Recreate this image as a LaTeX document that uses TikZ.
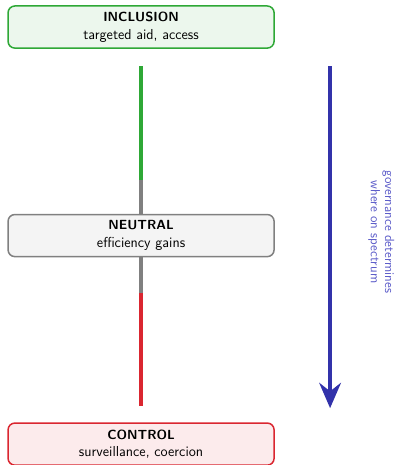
\documentclass[tikz,border=0pt]{standalone}
\usepackage{tikz}
\usetikzlibrary{arrows.meta}
\definecolor{incgreen}{RGB}{46,168,54}
\definecolor{ctrlred}{RGB}{218,38,48}
\definecolor{neugray}{RGB}{128,128,128}
\definecolor{govblue}{RGB}{50,50,170}
\definecolor{govtext}{RGB}{90,90,200}
\newcommand{\govarrow}{-{Stealth[length=21pt,width=18pt,inset=7pt]}}
\newcommand{\sub}{\fontsize{12}{14.5}\selectfont}

\begin{document}
\begin{tikzpicture}[font=\sffamily\fontsize{11}{14.5}\selectfont,
	spec/.style={draw, rounded corners=0.2cm, line width=1.25pt, minimum width=7.77cm, minimum height=1.23cm, align=center},
	bar/.style={line width=3.3pt}]
	\useasboundingbox (-4.12,-6.70) rectangle (7.50,6.88);
	\node[spec, draw=incgreen, fill=incgreen!9] (inc) at (0,6.09) {\textbf{INCLUSION}\\ \sub targeted aid, access};
	\node[spec, draw=neugray, fill=neugray!9] (neu) at (0,0) {\textbf{NEUTRAL}\\ \sub efficiency gains};
	\node[spec, draw=ctrlred, fill=ctrlred!9] (ctrl) at (0,-6.09) {\textbf{CONTROL}\\ \sub surveillance, coercion};
	\coordinate (gtop) at (0,4.95);
	\coordinate (gbot) at (0,1.62);
	\coordinate (rtop) at (0,-1.68);
	\coordinate (rbot) at (0,-4.98);
	\draw[bar, incgreen] (gtop) -- (gbot);
	\draw[bar, neugray] (gbot) -- (neu);
	\draw[bar, neugray] (neu) -- (rtop);
	\draw[bar, ctrlred] (rtop) -- (rbot);
	\coordinate (atop) at (5.52,4.95);
	\coordinate (abot) at (5.52,-5.04);
	\draw[bar, govblue, \govarrow] (atop) -- node[pos=0.485, xshift=1.02cm, rotate=-90, anchor=south, align=center, text=govtext, inner sep=1pt, font=\sffamily\fontsize{11}{12}\selectfont]{governance determines\\ where on spectrum} (abot);
\end{tikzpicture}
\end{document}
